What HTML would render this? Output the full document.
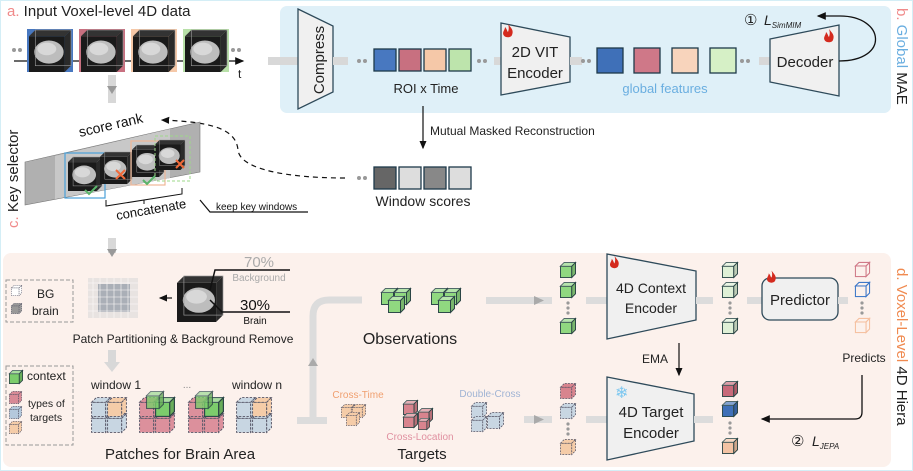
<!DOCTYPE html>
<html><head><meta charset="utf-8"><style>
html,body{margin:0;padding:0;background:#fff}
svg{display:block;font-family:"Liberation Sans",sans-serif}
</style></head><body>
<svg width="913" height="471" viewBox="0 0 913 471" xmlns="http://www.w3.org/2000/svg">
<defs>
<symbol id="cube" viewBox="0 0 17 17" overflow="visible">
<rect x="0.5" y="4.5" width="12" height="12" fill="currentColor" stroke="#2e4a4a" stroke-width="1"/>
<polygon points="0.5,4.5 4.5,0.5 16.5,0.5 12.5,4.5" fill="currentColor" stroke="#2e4a4a" stroke-width="1"/>
<polygon points="0.5,4.5 4.5,0.5 16.5,0.5 12.5,4.5" fill="#fff" opacity=".35"/>
<polygon points="12.5,4.5 16.5,0.5 16.5,12.5 12.5,16.5" fill="currentColor" stroke="#2e4a4a" stroke-width="1"/>
<polygon points="12.5,4.5 16.5,0.5 16.5,12.5 12.5,16.5" fill="#000" opacity=".15"/>
</symbol>
<symbol id="dcube" viewBox="0 0 17 17" overflow="visible">
<g stroke="#556" stroke-width="0.8" stroke-dasharray="2 1.2">
<rect x="0.5" y="4.5" width="12" height="12" fill="currentColor"/>
<polygon points="0.5,4.5 4.5,0.5 16.5,0.5 12.5,4.5" fill="currentColor"/>
<polygon points="12.5,4.5 16.5,0.5 16.5,12.5 12.5,16.5" fill="currentColor"/>
</g>
</symbol>
<symbol id="ocube" viewBox="0 0 17 17" overflow="visible">
<g fill="none" stroke="currentColor" stroke-width="1.2">
<rect x="0.5" y="4.5" width="12" height="12"/>
<polygon points="0.5,4.5 4.5,0.5 16.5,0.5 12.5,4.5"/>
<polygon points="12.5,4.5 16.5,0.5 16.5,12.5 12.5,16.5"/>
</g>
</symbol>
<symbol id="brain" viewBox="0 0 40 40" overflow="visible">
<rect x="0" y="6" width="34" height="34" fill="#1a1a1a"/>
<polygon points="0,6 6,0 40,0 34,6" fill="#333"/>
<polygon points="34,6 40,0 40,34 34,40" fill="#2a2a2a"/>
<ellipse cx="19" cy="21" rx="14" ry="11" fill="#bdbdbd"/>
<ellipse cx="17" cy="18" rx="9" ry="6" fill="#d8d8d8"/>
<rect x="6" y="0" width="34" height="34" fill="none" stroke="#999" stroke-width=".6"/>
</symbol>
<symbol id="flame" viewBox="0 0 12 14" overflow="visible">
<path d="M6,0 C9,4 12,6 10,11 C9,14 3,14 1.5,11 C0,8 3,6 3,3 C5,5 5,7 6,8 C7,5 7,3 6,0Z" fill="#d42a1e"/>
</symbol>
<marker id="ah" markerWidth="8" markerHeight="8" refX="6" refY="3" orient="auto"><path d="M0,0 L7,3 L0,6Z" fill="#111"/></marker>
</defs>

<rect x="0.5" y="0.5" width="912" height="470" fill="#fff" stroke="#d4eef6"/>

<rect x="280" y="6" width="611" height="107" rx="7" fill="#dff0f8"/>
<text x="7" y="16" font-size="15"><tspan fill="#f08a8a">a.</tspan><tspan fill="#222"> Input Voxel-level 4D data</tspan></text>

<circle cx="14" cy="50" r="2" fill="#999"/><circle cx="20" cy="50" r="2" fill="#999"/>
<line x1="14" y1="61" x2="243" y2="61" stroke="#111" stroke-width="1.3" marker-end="url(#ah)"/>
<text x="238" y="78" font-size="12" fill="#222">t</text>
<rect x="27" y="29" width="46" height="43" fill="#4878c0"/>
<rect x="79" y="29" width="46" height="43" fill="#c87080"/>
<rect x="131" y="29" width="46" height="43" fill="#f5c8a8"/>
<rect x="183" y="29" width="46" height="43" fill="#b8e0a8"/>
<use href="#brain" x="29" y="30" width="42" height="42"/>
<use href="#brain" x="81" y="30" width="42" height="42"/>
<use href="#brain" x="133" y="30" width="42" height="42"/>
<use href="#brain" x="185" y="30" width="42" height="42"/>
<circle cx="233" cy="50" r="2" fill="#999"/><circle cx="239" cy="50" r="2" fill="#999"/>

<rect x="268" y="57" width="32" height="8" fill="#d8d8d8"/>
<polygon points="298,9 333,26 333,92 298,109" fill="#f0f0f0" stroke="#2e4a5a" stroke-width="1.3"/>
<text transform="translate(324,60) rotate(-90)" text-anchor="middle" font-size="15" fill="#222">Compress</text>
<rect x="333" y="57" width="15" height="8" fill="#d8d8d8"/>
<circle cx="359" cy="61" r="2" fill="#999"/><circle cx="365" cy="61" r="2" fill="#999"/>
<g stroke="#1e3a4a" stroke-width="1.3">
<rect x="374" y="49" width="22" height="22" fill="#4878c0"/>
<rect x="399" y="49" width="22" height="22" fill="#c87080"/>
<rect x="424" y="49" width="22" height="22" fill="#f5c8a8"/>
<rect x="449" y="49" width="22" height="22" fill="#bde4ac"/>
</g>
<text x="426" y="93" text-anchor="middle" font-size="13" fill="#222">ROI x Time</text>
<circle cx="479" cy="61" r="2" fill="#999"/><circle cx="485" cy="61" r="2" fill="#999"/>
<rect x="494" y="57" width="8" height="8" fill="#d8d8d8"/>
<polygon points="501,23 570,37 570,82 501,95" fill="#f0f0f0" stroke="#2e4a5a" stroke-width="1.3"/>
<use href="#flame" x="502" y="24" width="12" height="14"/>
<text x="535" y="57" text-anchor="middle" font-size="15" fill="#222">2D VIT</text>
<text x="535" y="78" text-anchor="middle" font-size="15" fill="#222">Encoder</text>
<rect x="570" y="57" width="12" height="8" fill="#d8d8d8"/>
<circle cx="583" cy="61" r="2" fill="#999"/><circle cx="589" cy="61" r="2" fill="#999"/>
<g stroke="#1e3a4a" stroke-width="1.3">
<rect x="597" y="48" width="26" height="25" fill="#3f70b8"/>
<rect x="634" y="48" width="26" height="25" fill="#cf7888"/>
<rect x="672" y="48" width="26" height="25" fill="#f8d4bc"/>
<rect x="710" y="48" width="26" height="25" fill="#d6f0c6"/>
</g>
<text x="665" y="93" text-anchor="middle" font-size="13" fill="#6aaee0">global features</text>
<circle cx="742" cy="61" r="2" fill="#999"/><circle cx="748" cy="61" r="2" fill="#999"/>
<rect x="759" y="57" width="12" height="8" fill="#d8d8d8"/>
<polygon points="770,39 839,25 839,96 770,82" fill="#f0f0f0" stroke="#2e4a5a" stroke-width="1.3"/>
<use href="#flame" x="823" y="29" width="12" height="14"/>
<text x="805" y="67" text-anchor="middle" font-size="15" fill="#222">Decoder</text>
<path d="M839,61 C890,61 885,16 840,16 L818,16" fill="none" stroke="#111" stroke-width="1.3" marker-end="url(#ah)"/>
<text x="744" y="25" font-size="15" fill="#222">①</text>
<text x="764" y="25" font-size="14" font-style="italic" fill="#222">L<tspan font-size="8" dy="3">SimMIM</tspan></text>
<text transform="translate(897,8) rotate(90)" font-size="15"><tspan fill="#f08a8a">b.</tspan><tspan fill="#6aaee0"> Global</tspan><tspan fill="#222"> MAE</tspan></text>

<line x1="423" y1="106" x2="423" y2="148" stroke="#111" stroke-width="1.2" marker-end="url(#ah)"/>
<text x="430" y="135" font-size="12" fill="#222">Mutual Masked Reconstruction</text>
<circle cx="359" cy="178" r="2" fill="#999"/><circle cx="365" cy="178" r="2" fill="#999"/>
<g stroke="#1e3a4a" stroke-width="1.3">
<rect x="374" y="167" width="22" height="22" fill="#666"/>
<rect x="399" y="167" width="22" height="22" fill="#ddd"/>
<rect x="424" y="167" width="22" height="22" fill="#888"/>
<rect x="449" y="167" width="22" height="22" fill="#ddd"/>
</g>
<text x="423" y="206" text-anchor="middle" font-size="14" fill="#222">Window scores</text>
<path d="M345,178 C290,178 240,170 238,150 C236,128 210,122 162,120" fill="none" stroke="#111" stroke-width="1.2" stroke-dasharray="5 4" marker-end="url(#ah)"/>

<rect x="108" y="75" width="8" height="28" fill="#d8d8d8"/>
<polygon points="107,86 117,86 112,94" fill="#999"/>
<polygon points="25,162 200,122 200,172 25,205" fill="#b0b0b0" stroke="#777" stroke-width=".6"/>
<polygon points="55,156 170,129 170,178 55,199" fill="#c8c8c8"/>
<text transform="translate(80,137) rotate(-13)" font-size="14" fill="#111">score rank</text>
<rect x="65" y="153" width="40" height="45" fill="none" stroke="#4aa0d8" stroke-width="1.2"/>
<use href="#brain" x="68" y="157" width="34" height="34"/>
<use href="#brain" x="100" y="152" width="32" height="32"/>
<rect x="131" y="141" width="34" height="44" fill="none" stroke="#f0b898" stroke-width="1.2"/>
<use href="#brain" x="132" y="145" width="32" height="32"/>
<use href="#brain" x="155" y="140" width="30" height="30"/>
<rect x="155" y="136" width="35" height="45" fill="none" stroke="#9ed88a" stroke-width="1" stroke-dasharray="3 2"/>
<path d="M85,190 l4,4 l8,-8" stroke="#5ab46a" stroke-width="2" fill="none"/>
<path d="M143,180 l4,4 l8,-8" stroke="#5ab46a" stroke-width="2" fill="none"/>
<path d="M116,170 l9,9 M125,170 l-9,9 M176,160 l8,8 M184,160 l-8,8" stroke="#f06a3a" stroke-width="2"/>
<path d="M106,200 l0,6 l76,-12 l0,-6 M144,200 l0,4" stroke="#111" stroke-width="1" fill="none"/>
<text transform="translate(117,220) rotate(-10)" font-size="13" fill="#111">concatenate</text>
<path d="M200,200 L210,212 L308,212" stroke="#111" stroke-width="1.2" fill="none"/>
<text x="216" y="210" font-size="10" fill="#111">keep key windows</text>
<text transform="translate(18,228) rotate(-90)" font-size="15"><tspan fill="#f08a8a">c.</tspan><tspan fill="#222"> Key selector</tspan></text>
<rect x="108" y="238" width="8" height="22" fill="#d8d8d8"/>

<rect x="3" y="253" width="888" height="214" rx="8" fill="#fcf1ec"/>
<polygon points="107,249 117,249 112,257" fill="#999"/>
<text transform="translate(897,268) rotate(90)" font-size="15"><tspan fill="#f08a50">d. Voxel-Level</tspan><tspan fill="#222"> 4D Hiera</tspan></text>

<rect x="6" y="280" width="67" height="42" fill="none" stroke="#999" stroke-dasharray="4 2"/>
<use href="#dcube" x="11" y="285" width="11" height="11" style="color:#fff"/>
<use href="#dcube" x="11" y="303" width="11" height="11" style="color:#999"/>
<text x="37" y="298" font-size="12" fill="#222">BG</text>
<text x="32" y="315" font-size="12" fill="#222">brain</text>
<g opacity=".75">
<rect x="88" y="278" width="50" height="40" fill="#c8ccd0" opacity=".5"/>
<rect x="98" y="284" width="32" height="28" fill="#7a8a98" opacity=".8"/>
<path d="M88,283h50M88,290h50M88,297h50M88,304h50M88,311h50M93,278v40M100,278v40M107,278v40M114,278v40M121,278v40M128,278v40" stroke="#fff" stroke-width=".6"/>
</g>
<line x1="172" y1="298" x2="160" y2="298" stroke="#111" stroke-width="1.2" marker-end="url(#ah)"/>
<use href="#brain" x="177" y="276" width="46" height="46"/>
<path d="M210,290 L215,270 L290,270 M210,300 L222,312 L290,312" stroke="#111" stroke-width="1.5" fill="none"/>
<text x="259" y="267" text-anchor="middle" font-size="15" fill="#aaa">70%</text>
<text x="259" y="281" text-anchor="middle" font-size="10" fill="#aaa">Background</text>
<text x="255" y="310" text-anchor="middle" font-size="15" fill="#111">30%</text>
<text x="255" y="324" text-anchor="middle" font-size="10" fill="#111">Brain</text>
<text x="183" y="343" text-anchor="middle" font-size="12" fill="#222">Patch Partitioning &amp; Background Remove</text>
<rect x="108" y="350" width="8" height="14" fill="#d8d8d8"/>
<polygon points="104,362 120,362 112,372" fill="#d8d8d8"/>

<rect x="6" y="366" width="67" height="79" fill="none" stroke="#999" stroke-dasharray="4 2"/>
<use href="#cube" x="9" y="370" width="14" height="14" style="color:#7ccc6c"/>
<text x="27" y="380" font-size="12" fill="#222">context</text>
<use href="#dcube" x="9" y="391" width="13" height="13" style="color:#d88a96"/>
<use href="#dcube" x="9" y="406" width="13" height="13" style="color:#b4c8dc"/>
<use href="#dcube" x="9" y="421" width="13" height="13" style="color:#f5cca8"/>
<text x="28" y="407" font-size="10.5" fill="#222">types of</text>
<text x="30" y="421" font-size="10.5" fill="#222">targets</text>
<text x="116" y="389" text-anchor="middle" font-size="12" fill="#222">window 1</text>
<text x="187" y="388" text-anchor="middle" font-size="10" fill="#888">...</text>
<text x="257" y="389" text-anchor="middle" font-size="12" fill="#222">window n</text>
<g>
<use href="#dcube" x="91" y="413" width="20" height="20" style="color:#c8d6e2"/>
<use href="#dcube" x="107" y="413" width="20" height="20" style="color:#c8d6e2"/>
<use href="#dcube" x="91" y="397" width="20" height="20" style="color:#c8d6e2"/>
<use href="#dcube" x="107" y="397" width="20" height="20" style="color:#f5cca8"/>
<use href="#dcube" x="139" y="413" width="20" height="20" style="color:#dc909c"/>
<use href="#dcube" x="155" y="413" width="20" height="20" style="color:#dc909c"/>
<use href="#dcube" x="139" y="397" width="20" height="20" style="color:#dc909c"/>
<use href="#cube" x="155" y="397" width="20" height="20" style="color:#7ccc6c"/>
<use href="#cube" x="146" y="391" width="18" height="18" style="color:#7ccc6c" opacity=".8"/>
<use href="#dcube" x="188" y="413" width="20" height="20" style="color:#dc909c"/>
<use href="#dcube" x="204" y="413" width="20" height="20" style="color:#dc909c"/>
<use href="#dcube" x="188" y="397" width="20" height="20" style="color:#dc909c"/>
<use href="#cube" x="204" y="397" width="20" height="20" style="color:#7ccc6c"/>
<use href="#cube" x="195" y="391" width="18" height="18" style="color:#7ccc6c" opacity=".8"/>
<use href="#dcube" x="236" y="413" width="20" height="20" style="color:#c8d6e2"/>
<use href="#dcube" x="252" y="413" width="20" height="20" style="color:#c8d6e2"/>
<use href="#dcube" x="236" y="397" width="20" height="20" style="color:#c8d6e2"/>
<use href="#dcube" x="252" y="397" width="20" height="20" style="color:#f5cca8"/>
</g>
<text x="180" y="459" text-anchor="middle" font-size="15" fill="#222">Patches for Brain Area</text>

<path d="M313,420 L313,316 Q313,300 329,300 L362,300" stroke="#dcdcdc" stroke-width="7" fill="none"/>
<rect x="297" y="417" width="30" height="7" fill="#dcdcdc"/>
<polygon points="308,366 318,366 313,358" fill="#aaa"/>
<use href="#cube" x="381" y="288" width="17" height="17" style="color:#90d880"/>
<use href="#cube" x="394" y="288" width="17" height="17" style="color:#90d880"/>
<use href="#cube" x="388" y="296" width="17" height="17" style="color:#90d880"/>
<use href="#cube" x="431" y="288" width="17" height="17" style="color:#90d880"/>
<use href="#cube" x="444" y="288" width="17" height="17" style="color:#90d880"/>
<use href="#cube" x="438" y="296" width="17" height="17" style="color:#90d880"/>
<text x="410" y="344" text-anchor="middle" font-size="16" fill="#222">Observations</text>
<rect x="486" y="297" width="66" height="7" fill="#dcdcdc"/>
<polygon points="534,296 544,300.5 534,305" fill="#aaa"/>

<text x="358" y="398" text-anchor="middle" font-size="10" fill="#f0a070">Cross-Time</text>
<use href="#dcube" x="341" y="404" width="14" height="14" style="color:#f5cca8"/>
<use href="#dcube" x="352" y="404" width="14" height="14" style="color:#f5cca8"/>
<use href="#dcube" x="346" y="412" width="14" height="14" style="color:#f5cca8"/>
<use href="#cube" x="403" y="400" width="15" height="15" style="color:#d8848e"/>
<use href="#cube" x="403" y="413" width="15" height="15" style="color:#d8848e"/>
<use href="#cube" x="418" y="408" width="15" height="15" style="color:#d8848e"/>
<use href="#cube" x="418" y="418" width="12" height="12" style="color:#d8848e"/>
<text x="420" y="440" text-anchor="middle" font-size="10" fill="#e090a0">Cross-Location</text>
<text x="422" y="459" text-anchor="middle" font-size="15" fill="#222">Targets</text>
<text x="490" y="397" text-anchor="middle" font-size="10" fill="#a0b4d4">Double-Cross</text>
<use href="#dcube" x="471" y="402" width="16" height="16" style="color:#c8d6e2"/>
<use href="#dcube" x="471" y="416" width="16" height="16" style="color:#c8d6e2"/>
<use href="#dcube" x="487" y="412" width="17" height="17" style="color:#c8d6e2"/>
<rect x="524" y="416" width="28" height="7" fill="#dcdcdc"/>
<polygon points="534,415 544,419.5 534,424" fill="#aaa"/>

<use href="#cube" x="560" y="262" width="16" height="16" style="color:#90d880"/>
<use href="#cube" x="560" y="282" width="16" height="16" style="color:#90d880"/>
<circle cx="568" cy="303" r="1.6" fill="#999"/><circle cx="568" cy="308" r="1.6" fill="#999"/><circle cx="568" cy="313" r="1.6" fill="#999"/>
<use href="#cube" x="560" y="318" width="16" height="16" style="color:#90d880"/>
<use href="#dcube" x="560" y="383" width="16" height="16" style="color:#d8848e"/>
<use href="#dcube" x="560" y="403" width="16" height="16" style="color:#c8d6e2"/>
<circle cx="568" cy="424" r="1.6" fill="#999"/><circle cx="568" cy="429" r="1.6" fill="#999"/><circle cx="568" cy="434" r="1.6" fill="#999"/>
<use href="#dcube" x="560" y="439" width="16" height="16" style="color:#f5cca8"/>
<rect x="586" y="297" width="22" height="7" fill="#dcdcdc"/>
<rect x="586" y="416" width="22" height="7" fill="#dcdcdc"/>

<polygon points="607,254 696,271 696,320 607,339" fill="#f0f0f0" stroke="#2e4a5a" stroke-width="1.3"/>
<use href="#flame" x="609" y="256" width="11" height="13"/>
<text x="651" y="293" text-anchor="middle" font-size="14" fill="#222">4D Context</text>
<text x="651" y="313" text-anchor="middle" font-size="14" fill="#222">Encoder</text>
<line x1="679" y1="343" x2="679" y2="375" stroke="#111" stroke-width="1.2" marker-end="url(#ah)"/>
<text x="655" y="363" text-anchor="middle" font-size="12" fill="#222">EMA</text>
<polygon points="607,377 694,394 694,441 607,460" fill="#f0f0f0" stroke="#2e4a5a" stroke-width="1.3"/>
<text x="615" y="398" font-size="16" fill="#7ec8f0">❄</text>
<text x="651" y="417" text-anchor="middle" font-size="15" fill="#222">4D Target</text>
<text x="651" y="438" text-anchor="middle" font-size="15" fill="#222">Encoder</text>
<rect x="696" y="297" width="17" height="7" fill="#dcdcdc"/>
<rect x="694" y="416" width="19" height="7" fill="#dcdcdc"/>

<use href="#cube" x="722" y="262" width="16" height="16" style="color:#dff0d6"/>
<use href="#cube" x="722" y="282" width="16" height="16" style="color:#dff0d6"/>
<circle cx="730" cy="303" r="1.6" fill="#999"/><circle cx="730" cy="308" r="1.6" fill="#999"/><circle cx="730" cy="313" r="1.6" fill="#999"/>
<use href="#cube" x="722" y="318" width="16" height="16" style="color:#dff0d6"/>
<use href="#cube" x="722" y="381" width="16" height="16" style="color:#c86a7a"/>
<use href="#cube" x="722" y="401" width="16" height="16" style="color:#3f70b8"/>
<circle cx="730" cy="423" r="1.6" fill="#999"/><circle cx="730" cy="428" r="1.6" fill="#999"/><circle cx="730" cy="433" r="1.6" fill="#999"/>
<use href="#cube" x="722" y="438" width="16" height="16" style="color:#f3c3a4"/>

<rect x="747" y="297" width="16" height="7" fill="#dcdcdc"/>
<rect x="762" y="278" width="76" height="42" rx="8" fill="#f0f0f0" stroke="#2e4a5a" stroke-width="1.3"/>
<use href="#flame" x="766" y="270" width="11" height="14"/>
<text x="800" y="305" text-anchor="middle" font-size="15" fill="#222">Predictor</text>
<rect x="838" y="297" width="10" height="7" fill="#dcdcdc"/>
<use href="#ocube" x="855" y="262" width="15" height="15" style="color:#d07a88"/>
<use href="#ocube" x="855" y="282" width="15" height="15" style="color:#3f78c8"/>
<circle cx="862" cy="303" r="1.6" fill="#999"/><circle cx="862" cy="308" r="1.6" fill="#999"/><circle cx="862" cy="313" r="1.6" fill="#999"/>
<use href="#ocube" x="855" y="318" width="15" height="15" style="color:#f5c0a0"/>
<text x="864" y="362" text-anchor="middle" font-size="12" fill="#222">Predicts</text>
<path d="M862,375 L862,412 Q862,419 855,419 L762,419" fill="none" stroke="#111" stroke-width="1.3" marker-end="url(#ah)"/>
<text x="791" y="446" font-size="15" fill="#222">②</text>
<text x="812" y="446" font-size="14" font-style="italic" fill="#222">L<tspan font-size="8" dy="3">JEPA</tspan></text>
</svg>
</body></html>
